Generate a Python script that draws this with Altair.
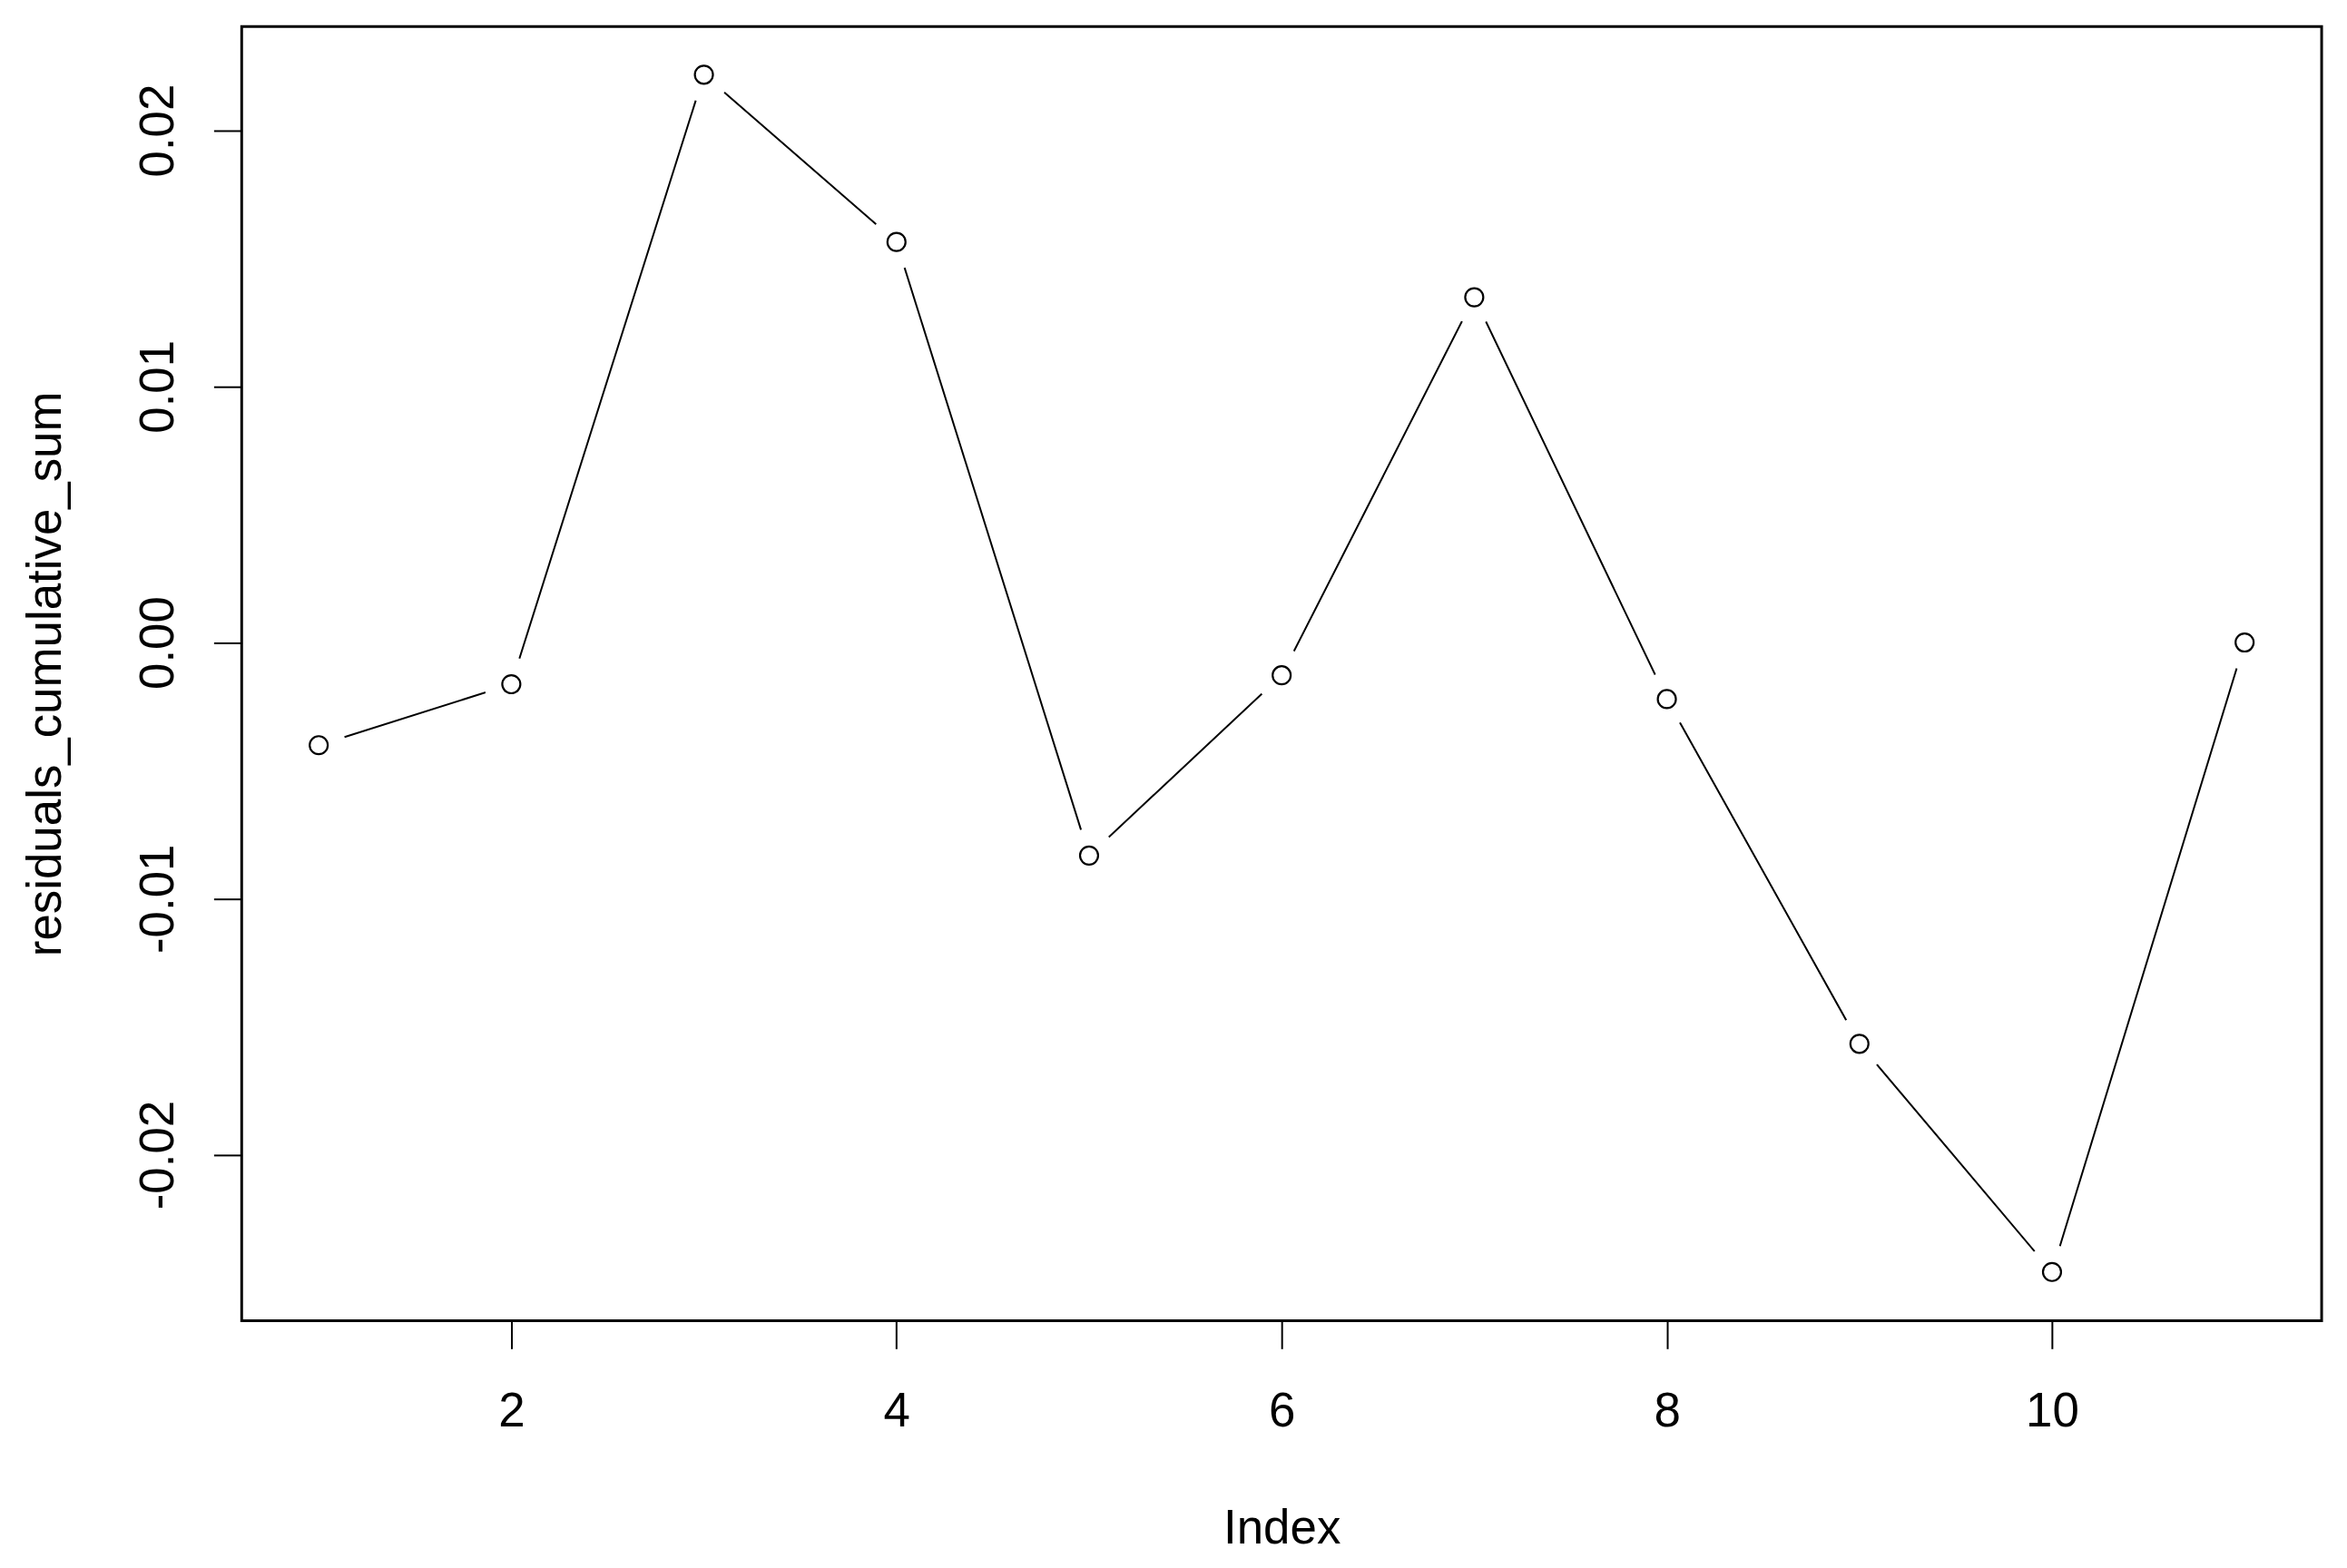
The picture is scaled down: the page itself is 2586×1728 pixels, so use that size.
import altair as alt
import pandas as pd

index = [1, 2, 3, 4, 5, 6, 7, 8, 9, 10, 11]
residuals_cumulative_sum = [-0.00401, -0.00163, 0.02217, 0.01564, -0.00832, -0.00128,
                            0.01348, -0.00221, -0.01567, -0.02458, 0.0]
x_ticks = [2, 4, 6, 8, 10]
y_ticks = [-0.02, -0.01, 0.0, 0.01, 0.02]

df = pd.DataFrame({"Index": index, "residuals_cumulative_sum": residuals_cumulative_sum})

W, H = 2298, 1430
FONT = "Liberation Sans"
FS = 53

x = alt.X("Index:Q",
          scale=alt.Scale(domain=[0.6, 11.4], nice=False, zero=False),
          axis=alt.Axis(values=x_ticks, title="Index", grid=False, domain=False,
                        tickSize=31, tickWidth=2, tickColor="black",
                        labelFontSize=FS, labelFont=FONT, labelColor="black",
                        labelBaseline="alphabetic", labelPadding=85, labelFlush=False,
                        titleFontSize=FS, titleFont=FONT, titleColor="black",
                        titleFontWeight="normal", titleBaseline="alphabetic",
                        titleAlign="center", titleX=W / 2, titleY=246))
y = alt.Y("residuals_cumulative_sum:Q",
          scale=alt.Scale(domain=[-0.02648, 0.02405], nice=False, zero=False),
          axis=alt.Axis(values=y_ticks, format=".2f", title="residuals_cumulative_sum",
                        labelExpr="replace(datum.label, '\u2212', '-')",
                        grid=False, domain=False,
                        tickSize=31, tickWidth=2, tickColor="black",
                        labelFontSize=FS, labelFont=FONT, labelColor="black",
                        labelAngle=270, labelAlign="center", labelBaseline="alphabetic",
                        labelPadding=45, labelFlush=False,
                        titleFontSize=FS, titleFont=FONT, titleColor="black",
                        titleFontWeight="normal", titleAngle=270, titleBaseline="alphabetic",
                        titleAlign="center", titleX=-200, titleY=H / 2))

base = alt.Chart(df).encode(x=x, y=y)

line = base.mark_line(color="black", strokeWidth=2)
gaps = base.mark_point(shape="circle", filled=True, color="white", opacity=1, size=3600, strokeWidth=0)
pts = base.mark_point(shape="circle", filled=False, color="black", opacity=1, size=400, strokeWidth=2.2)

chart = alt.layer(line, gaps, pts).properties(
    width=W, height=H,
    autosize=alt.AutoSizeParams(type="none"),
    padding={"left": 259, "top": 19, "right": 20, "bottom": 270},
    background="white",
).configure_view(stroke="black", strokeWidth=3)

chart.save("out.html", embed_options={"renderer": "svg", "actions": False})
